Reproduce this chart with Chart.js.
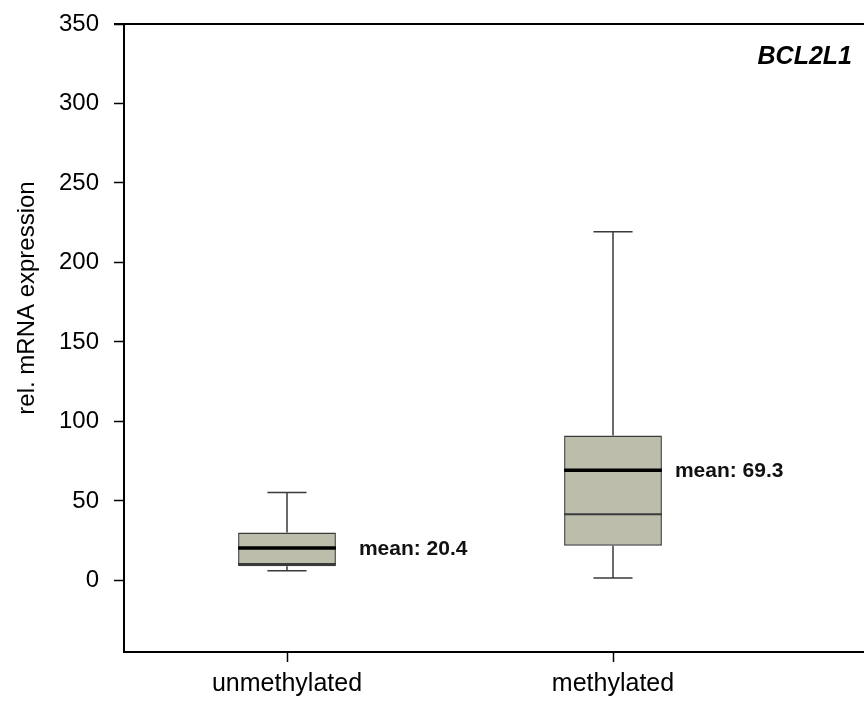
<!DOCTYPE html>
<html>
<head>
<meta charset="utf-8">
<script src="https://cdn.jsdelivr.net/npm/chart.js@4/dist/chart.umd.min.js"></script>
<style>
  html, body { margin: 0; padding: 0; background: #fff; }
  #wrap { width: 864px; height: 704px; position: relative; }
</style>
</head>
<body>
<div id="wrap"><canvas id="boxChart"></canvas></div>
<script>
const groups = ["unmethylated", "methylated"];
const whiskerLow = [6.1, 1.5];
const boxLow = [9.0, 21.9];
const medians = [10.3, 41.7];
const boxHigh = [30.1, 91.1];
const whiskerHigh = [55.4, 219.3];
const means = [20.4, 69.3];
const yTicks = [0, 50, 100, 150, 200, 250, 300, 350];

const geneName = "BCL2L1";
const yTitle = "rel. mRNA expression";

const boxFill = "#bdbdab";
const lineGray = "#3a3a3a";

// whiskers, median/mean lines and labels, drawn from the bar elements + y scale
const boxExtras = {
  id: "boxExtras",
  afterDatasetsDraw(chart) {
    const c = chart.ctx;
    const y = chart.scales.y;
    const bars = chart.getDatasetMeta(0).data;
    const labelGap = [23, 13];

    bars.forEach((bar, i) => {
      const half = bar.width / 2;
      const cap = bar.width * 0.2;
      c.save();
      c.strokeStyle = lineGray;
      c.lineWidth = 1.5;
      c.beginPath();
      c.moveTo(bar.x, y.getPixelForValue(boxHigh[i]));
      c.lineTo(bar.x, y.getPixelForValue(whiskerHigh[i]));
      c.moveTo(bar.x - cap, y.getPixelForValue(whiskerHigh[i]));
      c.lineTo(bar.x + cap, y.getPixelForValue(whiskerHigh[i]));
      c.moveTo(bar.x, y.getPixelForValue(boxLow[i]));
      c.lineTo(bar.x, y.getPixelForValue(whiskerLow[i]));
      c.moveTo(bar.x - cap, y.getPixelForValue(whiskerLow[i]));
      c.lineTo(bar.x + cap, y.getPixelForValue(whiskerLow[i]));
      c.stroke();

      c.lineWidth = 2;
      c.beginPath();
      c.moveTo(bar.x - half, y.getPixelForValue(medians[i]));
      c.lineTo(bar.x + half, y.getPixelForValue(medians[i]));
      c.stroke();

      const my = y.getPixelForValue(means[i]);
      c.strokeStyle = "#000";
      c.lineWidth = 3.5;
      c.beginPath();
      c.moveTo(bar.x - half, my);
      c.lineTo(bar.x + half, my);
      c.stroke();

      c.fillStyle = "#111";
      c.font = "bold 21px 'Liberation Sans', Arial, sans-serif";
      c.textAlign = "left";
      c.textBaseline = "middle";
      c.fillText("mean: " + means[i].toFixed(1), bar.x + half + labelGap[i], my + 1);
      c.restore();
    });
  },
  afterDraw(chart) {
    const c = chart.ctx;
    const a = chart.chartArea;
    c.save();
    // frame lines run on to the canvas edge
    c.strokeStyle = "#000";
    c.lineWidth = 2;
    c.beginPath();
    c.moveTo(a.left - 10, a.top);
    c.lineTo(chart.width, a.top);
    c.moveTo(a.right - 2, a.bottom);
    c.lineTo(chart.width, a.bottom);
    c.stroke();

    c.fillStyle = "#000";
    c.font = "italic bold 25px 'Liberation Sans', Arial, sans-serif";
    c.textAlign = "right";
    c.textBaseline = "alphabetic";
    c.fillText(geneName, 852, a.top + 40);

    c.font = "24px 'Liberation Sans', Arial, sans-serif";
    c.textAlign = "center";
    c.textBaseline = "middle";
    c.translate(27, 298);
    c.rotate(-Math.PI / 2);
    c.fillText(yTitle, 0, 0);
    c.restore();
  }
};

const ctx = document.getElementById("boxChart").getContext("2d");

const chart = new Chart(ctx, {
  type: "bar",
  data: {
    labels: groups,
    datasets: [{
      data: groups.map((g, i) => [boxLow[i], boxHigh[i]]),
      backgroundColor: boxFill,
      borderColor: lineGray,
      borderWidth: 1.5,
      borderSkipped: false,
      barPercentage: 0.3,
      categoryPercentage: 1
    }]
  },
  options: {
    responsive: true,
    maintainAspectRatio: false,
    animation: false,
    layout: { padding: { top: 24, right: 88, left: 0, bottom: 0 } },
    plugins: { legend: { display: false }, tooltip: { enabled: false } },
    scales: {
      x: {
        offset: true,
        afterFit: (s) => { s.height = 52; },
        grid: { drawOnChartArea: false, offset: false, tickLength: 10, color: "#000", tickWidth: 1.5 },
        border: { display: true, color: "#000", width: 2 },
        ticks: {
          color: "#000",
          padding: 7,
          font: { family: "'Liberation Sans', Arial, sans-serif", size: 25 }
        }
      },
      y: {
        min: -45,
        max: 350,
        afterFit: (s) => { s.width = 124; s.paddingTop = 0; s.paddingBottom = 0; },
        afterBuildTicks: (s) => { s.ticks = yTicks.map(v => ({ value: v })); },
        grid: { drawOnChartArea: false, tickLength: 10, color: "#000", tickWidth: 1.5 },
        border: { display: true, color: "#000", width: 2 },
        ticks: {
          color: "#000",
          padding: 15,
          font: { family: "'Liberation Sans', Arial, sans-serif", size: 24 }
        }
      }
    }
  },
  plugins: [boxExtras]
});
</script>
</body>
</html>
